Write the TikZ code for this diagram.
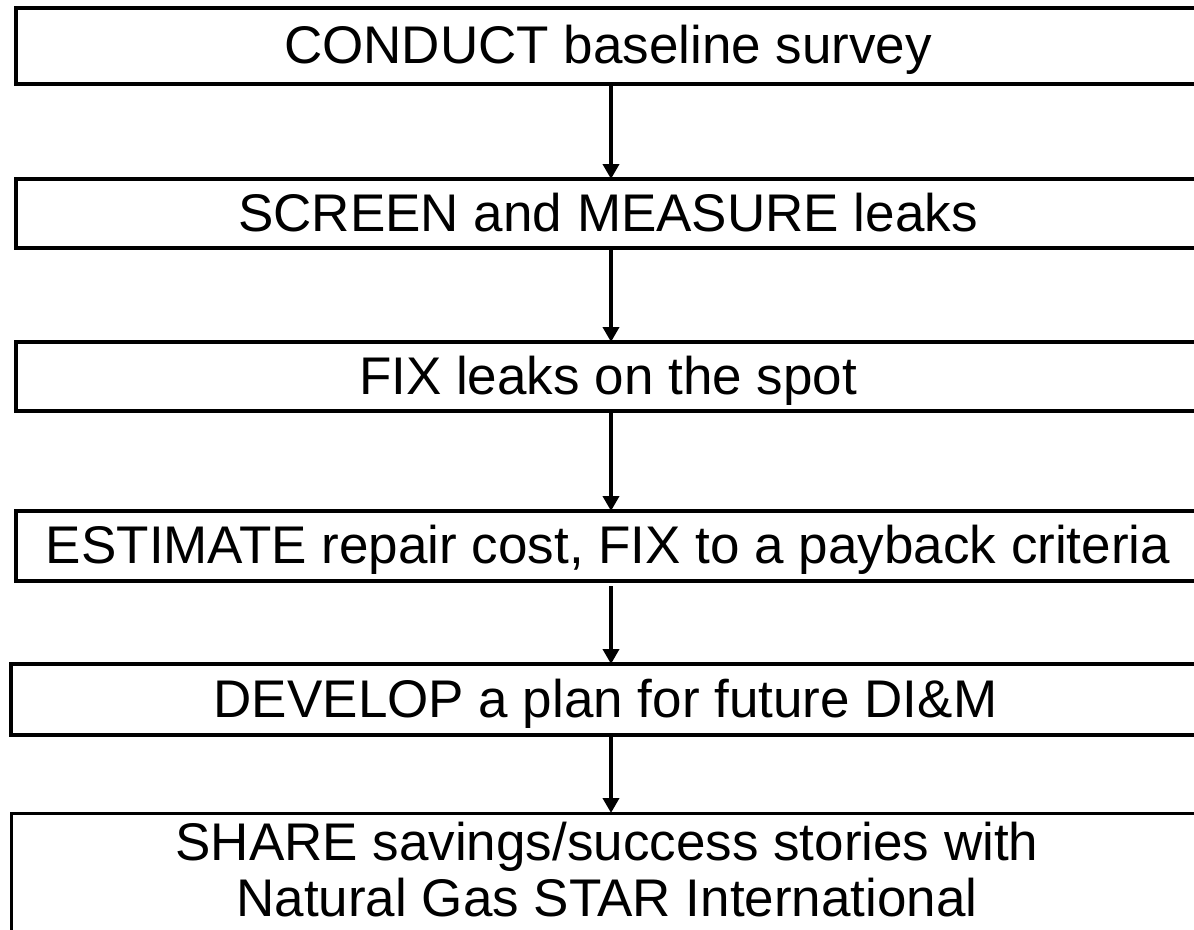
\documentclass[tikz,border=0pt]{standalone}
\usepackage{fontspec}
\setmainfont{Liberation Sans}
\usetikzlibrary{arrows.meta}
\begin{document}
\begin{tikzpicture}[x=1pt,y=-1pt,
  stage/.style={draw=black, line width=4pt, inner sep=0pt, outer sep=0pt,
    minimum width=1184pt, font=\fontsize{53}{58}\selectfont,
    text height=42pt, text depth=7pt},
  arr/.style={draw=black, line width=4pt, shorten <=2pt,
    -{Triangle[width=16pt,length=15pt]}}]
\clip (0,0) rectangle (1194,929);
\fill[white] (0,0) rectangle (1194,929);
\coordinate (ax) at (611,0);
\node[stage, minimum height=76pt] (b1) at (608,46) {CONDUCT baseline survey};
\node[stage, minimum height=69pt] (b2) at (608,213.5) {SCREEN and MEASURE leaks};
\node[stage, minimum height=69pt] (b3) at (608,376.5) {FIX leaks on the spot};
\node[stage, minimum height=70pt] (b4) at (608,546) {ESTIMATE repair cost, FIX to a payback criteria};
\node[stage, minimum height=71pt, minimum width=1189pt] (b5) at (605.5,699.5) {DEVELOP a plan for future DI\&M};
\node[draw=black, line width=3pt, inner sep=0pt, outer sep=0pt,
  minimum width=1189pt, minimum height=200pt] (b6) at (605.5,913) {};
\node[font=\fontsize{53}{56}\selectfont, align=center, inner sep=0pt] (t6) at (607,870)
  {SHARE savings/success stories with\\Natural Gas STAR International};
\draw[arr] (b1.south -| ax) -- (b2.north -| ax);
\draw[arr] (b2.south -| ax) -- (b3.north -| ax);
\draw[arr] (b3.south -| ax) -- (b4.north -| ax);
\draw[arr, shorten <=5pt] (b4.south -| ax) -- (b5.north -| ax);
\draw[arr] (b5.south -| ax) -- (b6.north -| ax);
\end{tikzpicture}
\end{document}
